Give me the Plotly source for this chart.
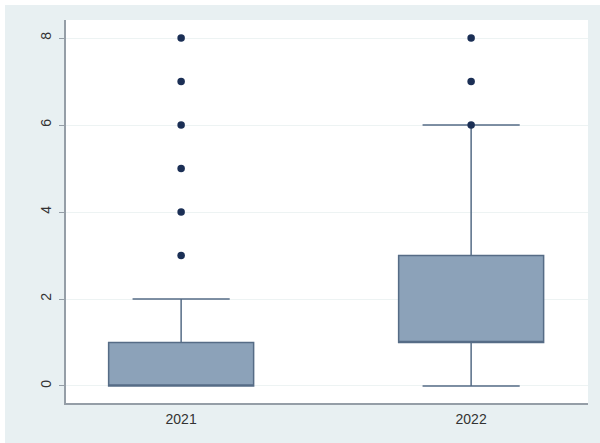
import plotly.graph_objects as go

# Box statistics per year
years = ["2021", "2022"]
q1 = [0, 1]
median = [0, 1]
q3 = [1, 3]
lower_whisker = [0, 0]
upper_whisker = [2, 6]

# Observations plotted individually beyond/at the whisker ends
outliers_2021 = [3, 4, 5, 6, 7, 8]
outliers_2022 = [6, 7, 8]

y_ticks = [0, 2, 4, 6, 8]

box_fill = "#8ca2b9"
box_line = "#566c86"
dot_color = "#1b2f55"
outer_bg = "#e8f0f2"
axis_grey = "#959ea7"

fig = go.Figure()

for i, yr in enumerate(years):
    fig.add_trace(go.Box(
        x=[i],
        q1=[q1[i]],
        median=[median[i]],
        q3=[q3[i]],
        lowerfence=[lower_whisker[i]],
        upperfence=[upper_whisker[i]],
        width=0.5,
        whiskerwidth=0.67,
        fillcolor=box_fill,
        line=dict(color=box_line, width=1.5),
        boxpoints=False,
        showlegend=False,
        hoverinfo="skip",
    ))

for i, pts in enumerate([outliers_2021, outliers_2022]):
    fig.add_trace(go.Scatter(
        x=[i] * len(pts),
        y=pts,
        mode="markers",
        marker=dict(color=dot_color, size=7.5),
        showlegend=False,
        hoverinfo="skip",
    ))

# Thin white frame along the top and left edges of the page
px_x = 1 / 522
px_y = 1 / 383
fig.add_shape(type="rect", xref="paper", yref="paper",
              x0=-66 * px_x, x1=-61 * px_x, y0=-40 * px_y, y1=403 * px_y,
              fillcolor="white", line_width=0, layer="below")
fig.add_shape(type="rect", xref="paper", yref="paper",
              x0=-66 * px_x, x1=534 * px_x, y0=398 * px_y, y1=403 * px_y,
              fillcolor="white", line_width=0, layer="below")

fig.update_layout(
    width=600,
    height=443,
    margin=dict(l=66, r=12, t=20, b=40),
    paper_bgcolor=outer_bg,
    plot_bgcolor="white",
    font=dict(family="Liberation Sans, Arial, sans-serif", size=14, color="#333333"),
    xaxis=dict(
        range=[-0.397, 1.403],
        tickmode="array",
        tickvals=[0, 1],
        ticktext=years,
        showgrid=False,
        zeroline=False,
        showline=True,
        linecolor=axis_grey,
        linewidth=1.5,
        ticks="",
        ticklabelstandoff=2,
        fixedrange=True,
    ),
    yaxis=dict(
        range=[-0.391, 8.414],
        tickmode="array",
        tickvals=y_ticks,
        ticktext=[str(v) for v in y_ticks],
        tickangle=-90,
        showgrid=True,
        gridcolor="#edf3f3",
        gridwidth=1,
        zeroline=False,
        showline=True,
        linecolor=axis_grey,
        linewidth=1.5,
        ticks="outside",
        ticklen=5,
        tickcolor=axis_grey,
        ticklabelstandoff=3,
        fixedrange=True,
    ),
)

fig.write_html("out.html")
